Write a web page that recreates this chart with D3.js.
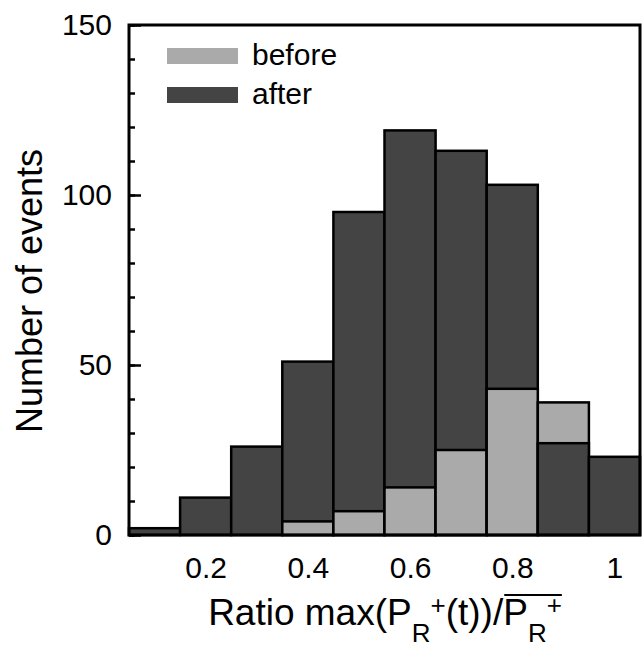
<html>
<style>
  body { margin: 0; background: #fff; }
  text { font-family: "Liberation Sans", Arial, Helvetica, sans-serif; }
</style>
<body>
<svg id="chart"></svg>
<script src="https://d3js.org/d3.v7.min.js"></script>
<script>
// histogram bins (centres) and counts
var binCentres = [0.1, 0.2, 0.3, 0.4, 0.5, 0.6, 0.7, 0.8, 0.9, 1.0];
var afterCounts = [2, 11, 26, 51, 95, 119, 113, 103, 27, 23];
var beforeCounts = [0, 0, 0, 4, 7, 14, 25, 43, 39, 0];
var xTickValues = [0.2, 0.4, 0.6, 0.8, 1];
var yMajorTicks = [0, 50, 100, 150];
var seriesNames = ["before", "after"];
var binWidth = 0.1;

(function() {
var width = 642, height = 646;
var mLeft = 129, mRight = 640, mTop = 25, mBottom = 535;
var colors = {before: "#aaaaaa", after: "#444444"};

var svg = d3.select("#chart").attr("width", width).attr("height", height);

var x = d3.scaleLinear().domain([0.05, 1.05]).range([mLeft, mRight]);
var y = d3.scaleLinear().domain([0, 150]).range([mBottom, mTop]);

// bars: taller one drawn first, shorter one in front
var bars = [];
binCentres.forEach(function(c, i) {
    var pair = [
        {bin: c, name: "before", v: beforeCounts[i]},
        {bin: c, name: "after", v: afterCounts[i]}
    ].filter(function(d) { return d.v > 0; });
    pair.sort(function(a, b) { return b.v - a.v; });
    bars = bars.concat(pair);
});

svg.append("g").selectAll("rect")
    .data(bars)
    .enter()
    .append("rect")
    .attr("x", function(d) { return x(d.bin - binWidth / 2); })
    .attr("width", function(d) { return x(d.bin + binWidth / 2) - x(d.bin - binWidth / 2); })
    .attr("y", function(d) { return y(d.v); })
    .attr("height", function(d) { return y(0) - y(d.v); })
    .attr("fill", function(d) { return colors[d.name]; })
    .attr("stroke", "#000")
    .attr("stroke-width", 2.5);

// y axis: minor and major ticks pointing inward
var yMinor = svg.append("g").attr("transform", "translate(" + mLeft + ",0)")
    .call(d3.axisLeft(y).tickValues(d3.range(0, 151, 10)).tickSize(-6).tickFormat(""));
var yMajor = svg.append("g").attr("transform", "translate(" + mLeft + ",0)")
    .call(d3.axisLeft(y).tickValues(yMajorTicks).tickSize(-12).tickPadding(17));
[yMinor, yMajor].forEach(function(g) {
    g.select(".domain").remove();
    g.selectAll("line").attr("stroke", "#000").attr("stroke-width", 2.5);
});
yMajor.selectAll("text").attr("font-size", 30).attr("fill", "#000")
    .style("font-family", "'Liberation Sans', Arial, sans-serif");

// x axis labels only
var xAxis = svg.append("g").attr("transform", "translate(0," + mBottom + ")")
    .call(d3.axisBottom(x).tickValues(xTickValues).tickSize(0).tickPadding(22)
        .tickFormat(function(d) { return d === 1 ? "1" : d3.format(".1f")(d); }));
xAxis.select(".domain").remove();
xAxis.selectAll("text").attr("font-size", 30).attr("fill", "#000")
    .style("font-family", "'Liberation Sans', Arial, sans-serif");

// frame
svg.append("path")
    .attr("d", "M" + mLeft + "," + mBottom + "V" + mTop + "H" + mRight + "V" + mBottom + "Z")
    .attr("fill", "none")
    .attr("stroke", "#000")
    .attr("stroke-width", 3);

// legend
var legend = svg.append("g");
seriesNames.forEach(function(name, i) {
    legend.append("rect")
        .attr("x", 167).attr("y", 48 + i * 39)
        .attr("width", 71).attr("height", 16)
        .attr("fill", colors[name]);
    legend.append("text")
        .attr("x", 252).attr("y", 65 + i * 38.5)
        .attr("font-size", 30)
        .text(name);
});

// y title
svg.append("text")
    .attr("transform", "translate(42,291) rotate(-90)")
    .attr("text-anchor", "middle")
    .attr("font-size", 36)
    .text("Number of events");

// x title: Ratio max(P_R^+(t))/ overline(P_R^+)
var fs = 37, small = 26, base = 625;
var title = svg.append("g");
function addPR(t) {
    t.append("tspan").text("P");
    t.append("tspan").attr("font-size", small).attr("dy", 17).text("R");
    t.append("tspan").attr("font-size", small).attr("dy", -28).text("+");
}
var t1 = title.append("text").attr("y", base).attr("font-size", fs);
t1.append("tspan").text("Ratio max(");
addPR(t1);
t1.append("tspan").attr("dy", 11).text("(t))/");
var t2 = title.append("text").attr("y", base).attr("font-size", fs);
addPR(t2);
var w1 = t1.node().getComputedTextLength();
var w2 = t2.node().getComputedTextLength();
var x0 = 385 - (w1 + w2) / 2;
t1.attr("x", x0);
t2.attr("x", x0 + w1);
title.append("line")
    .attr("x1", x0 + w1 + 1).attr("x2", x0 + w1 + w2)
    .attr("y1", 595).attr("y2", 595)
    .attr("stroke", "#000").attr("stroke-width", 2);
})();
</script>
</body>
</html>
